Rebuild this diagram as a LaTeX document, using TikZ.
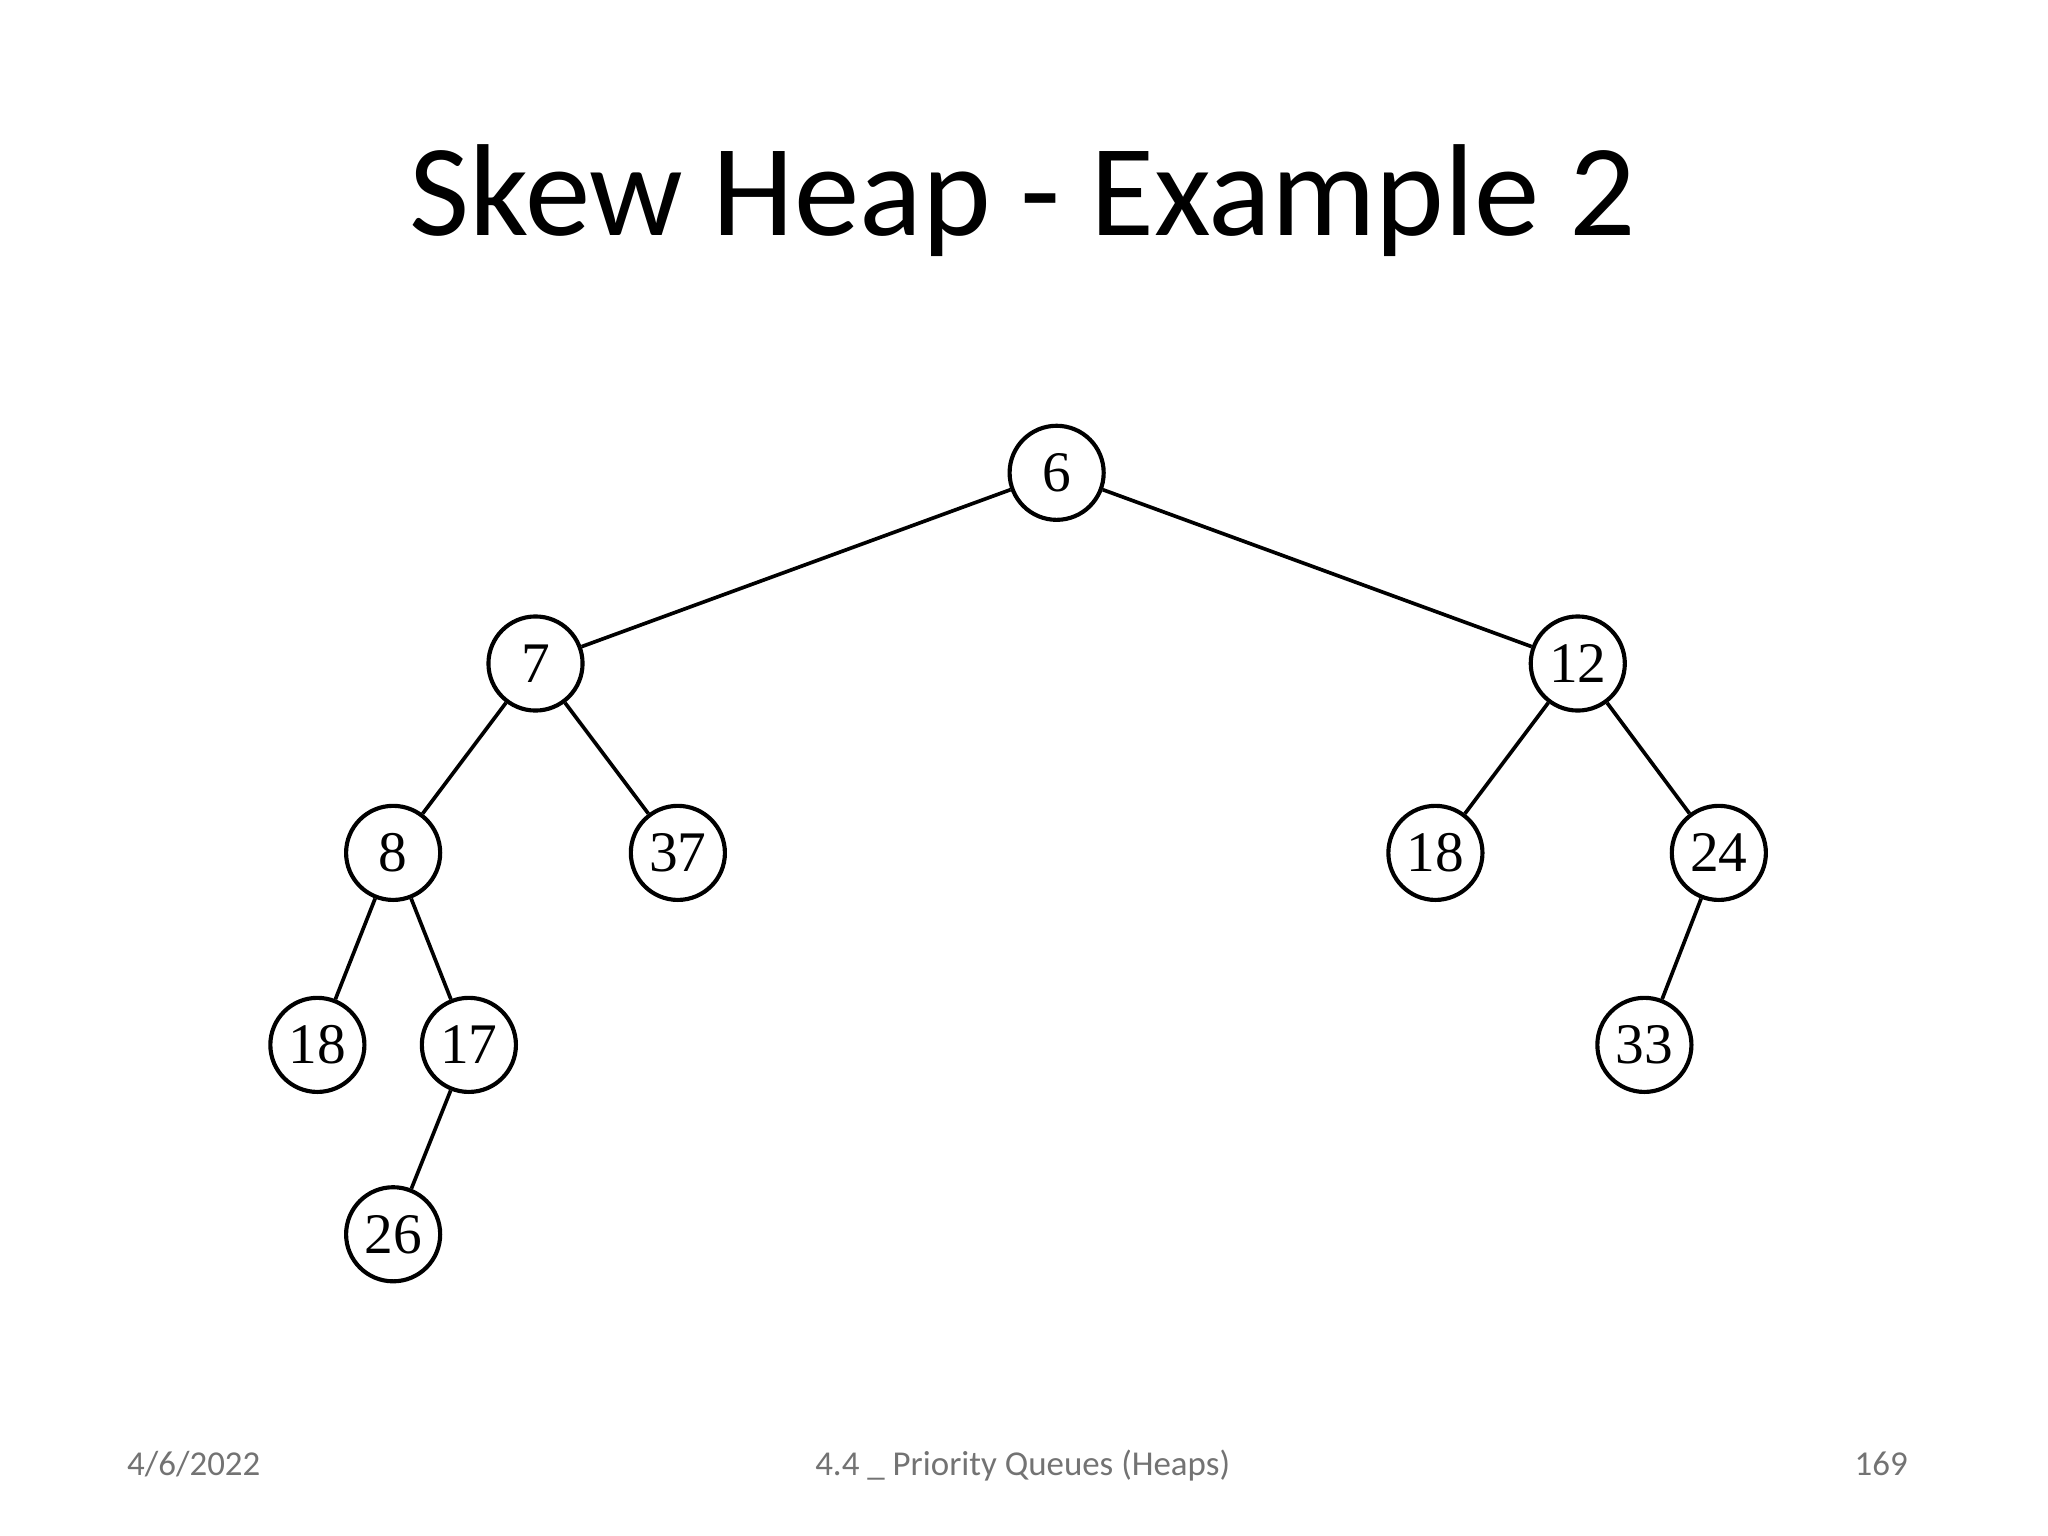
\documentclass[tikz,border=0pt]{standalone}
\usepackage{fontspec}
\setmainfont{Liberation Serif}
\newfontfamily\calfnt{Carlito}
\begin{document}
\begin{tikzpicture}[x=0.01cm,y=-0.01cm,
  hn/.style={circle,draw,line width=0.9pt,minimum size=0.72cm,inner sep=0pt,font=\fontsize{12.5}{14}\selectfont},
  ed/.style={line width=0.8pt}]
\useasboundingbox (0,0) rectangle (1568,1176);
\node[font=\calfnt\fontsize{28.5}{32}\selectfont,anchor=base] (title) at (783,180) {Skew Heap - Example 2};
\node (n6) [hn] at (809,362) {6};
\node (n7) [hn] at (410,508) {7};
\node (n12) [hn] at (1208,508) {12};
\node (n8) [hn] at (301,653) {8};
\node (n37) [hn] at (519,653) {37};
\node (n18b) [hn] at (1099,653) {18};
\node (n24) [hn] at (1316,653) {24};
\node (n18a) [hn] at (243,800) {18};
\node (n17) [hn] at (359,800) {17};
\node (n33) [hn] at (1259,800) {33};
\node (n26) [hn] at (301,945) {26};
\draw[ed] (n6)--(n7); \draw[ed] (n6)--(n12);
\draw[ed] (n7)--(n8); \draw[ed] (n7)--(n37);
\draw[ed] (n12)--(n18b); \draw[ed] (n12)--(n24);
\draw[ed] (n8)--(n18a); \draw[ed] (n8)--(n17);
\draw[ed] (n17)--(n26); \draw[ed] (n24)--(n33);
\begin{scope}[every node/.style={font=\calfnt\fontsize{7.6}{9}\selectfont,text=black!55}]
\node[anchor=base west] (f1) at (85,1130) {4/6/2022};
\node[anchor=base] (f2) at (783,1130) {4.4 \_ Priority Queues (Heaps)};
\node[anchor=base east] (f3) at (1473,1130) {169};
\end{scope}
\end{tikzpicture}
\end{document}
